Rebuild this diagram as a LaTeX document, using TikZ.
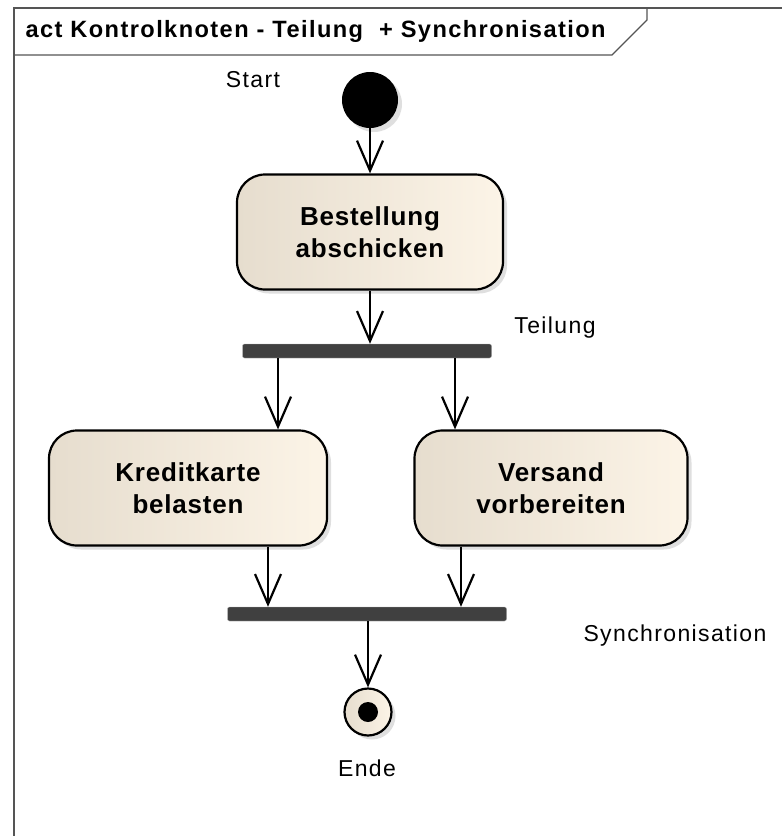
\documentclass[tikz,border=0pt]{standalone}
\usepackage{fontspec}
\setmainfont{Liberation Sans}
\newfontfamily\eafont[LetterSpace=6]{Liberation Sans}
\newfontfamily\eaboxfont[LetterSpace=3]{Liberation Sans}
\usetikzlibrary{arrows.meta}
\usetikzlibrary{shadows}
\definecolor{actleft}{HTML}{E6DDCE}
\definecolor{actright}{HTML}{FCF4E7}
\definecolor{barcol}{HTML}{404040}
\definecolor{framecol}{HTML}{555555}

\tikzset{
  action/.style={draw, line width=2.2pt, rounded corners=28pt,
    minimum width=266pt, minimum height=115pt, align=center,
    left color=actleft, right color=actright,
    font=\eaboxfont\fontsize{26}{32}\selectfont\bfseries,
    drop shadow={shadow xshift=4pt, shadow yshift=-4pt, fill=black!25}},
  syncbar/.style={fill=barcol, draw=black!30, rounded corners=2pt,
    minimum height=14pt, inner sep=0pt},
  flow/.style={line width=2.2pt,
    -{Straight Barb[length=30pt,width=26pt,line width=2.2pt]}},
  lbl/.style={font=\eafont\fontsize{23}{27}\selectfont},
}

\begin{document}
\begin{tikzpicture}[x=1pt, y=-1pt]
  \useasboundingbox (0,0) rectangle (782,836);
  % frame and title tab
  \draw[framecol, line width=1.2pt] (14,836) -- (14,8) -- (782,8);
  \draw[framecol, line width=1.2pt] (14,55) -- (612,55) -- (647,20) -- (647,8);
  \node[anchor=west, font=\eafont\fontsize{23.6}{27}\selectfont\bfseries] (title) at (22,31)
    {act Kontrolknoten - Teilung\ \ + Synchronisation};

  % start / end
  \node[circle, fill=black, minimum size=56pt, inner sep=0pt,
    drop shadow={shadow xshift=4pt, shadow yshift=-4pt, fill=black!25}] (start) at (370,100) {};
  \node[lbl] (startlbl) at (253,80) {Start};
  \node[circle, draw, line width=2.2pt, minimum size=47pt, inner sep=0pt,
    left color=actleft, right color=actright,
    drop shadow={shadow xshift=4pt, shadow yshift=-4pt, fill=black!25}] (ende) at (368,712) {};
  \fill (ende.center) circle (10pt);
  \node[lbl] (endelbl) at (367,768) {Ende};

  % actions
  \node[action] (bestell) at (370,232) {Bestellung\\abschicken};
  \node[action, minimum width=278pt] (kredit) at (188,488) {Kreditkarte\\belasten};
  \node[action, minimum width=273pt] (versand) at (551,488) {Versand\\vorbereiten};

  % fork / join
  \node[syncbar, minimum width=249pt] (teil) at (367,351) {};
  \node[lbl] (teillbl) at (555,328) {Teilung};
  \node[syncbar, minimum width=279pt] (sync) at (367,614) {};
  \node[lbl] (synclbl) at (675,636) {Synchronisation};

  % flows
  \draw[flow] (start) -- (bestell);
  \draw[flow] (bestell.south) -- (bestell.south |- teil.north);
  \foreach \x/\t in {278/kredit, 455/versand}
    \draw[flow] (teil.south -| \x,0) -- (\t.north -| \x,0);
  \foreach \x/\t in {268/kredit, 461/versand}
    \draw[flow] (\t.south -| \x,0) -- (sync.north -| \x,0);
  \draw[flow] (sync.south -| ende.north) -- (ende.north);
\end{tikzpicture}
\end{document}
